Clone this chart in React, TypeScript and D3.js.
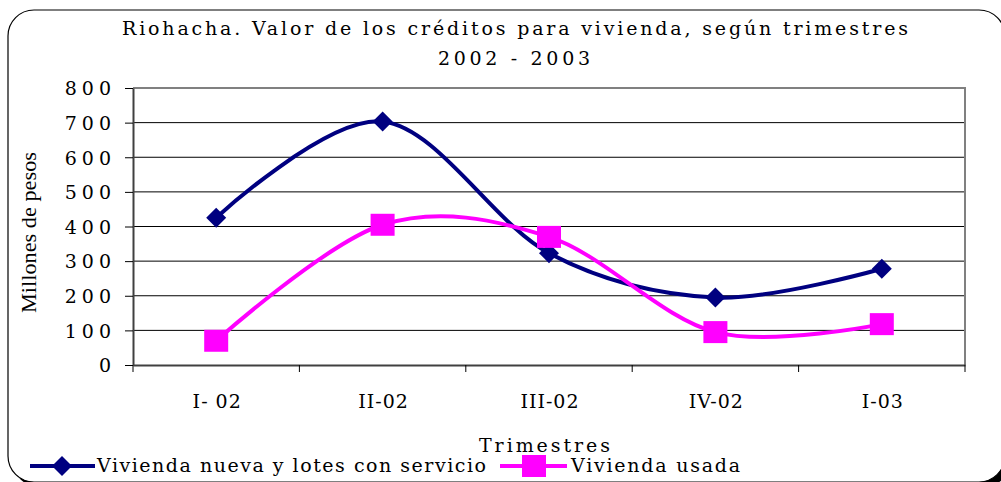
import React, { useRef, useEffect } from 'react';
import * as d3 from 'd3';

const categories = ['I- 02', 'II-02', 'III-02', 'IV-02', 'I-03'];
const viviendaNueva = [425, 703, 323, 195, 278];
const viviendaUsada = [70, 405, 370, 95, 118];
const yTicks = [0, 100, 200, 300, 400, 500, 600, 700, 800];

const seriesNames = ['Vivienda nueva y lotes con servicio', 'Vivienda usada'];
const colors = ['#000080', '#FF00FF'];
const font = '"DejaVu Serif", "Liberation Serif", serif';

export default function App() {
  const svgRef = useRef<SVGSVGElement>(null);

  useEffect(() => {
    const svg = d3.select(svgRef.current);
    svg.selectAll('*').remove();

    const plot = { left: 133, right: 965, top: 88, bottom: 365 };

    // frame with shadow
    svg.append('rect')
      .attr('x', 13).attr('y', 15).attr('width', 997).attr('height', 472)
      .attr('rx', 26).attr('fill', '#000');
    svg.append('rect')
      .attr('x', 8).attr('y', 10).attr('width', 997).attr('height', 472)
      .attr('rx', 26).attr('fill', '#fff').attr('stroke', '#000').attr('stroke-width', 1.2);

    // title
    svg.append('text')
      .attr('x', 122).attr('y', 35)
      .attr('textLength', 786).attr('lengthAdjust', 'spacing')
      .style('font-family', font).style('font-size', '19px')
      .text('Riohacha. Valor de los créditos para vivienda, según trimestres');
    svg.append('text')
      .attr('x', 438).attr('y', 65)
      .attr('textLength', 152).attr('lengthAdjust', 'spacing')
      .style('font-family', font).style('font-size', '19px')
      .text('2002 - 2003');

    const x = d3.scaleBand<string>().domain(categories).range([plot.left, plot.right]);
    const y = d3.scaleLinear().domain([0, 800]).range([plot.bottom, plot.top]);

    // gridlines
    svg.append('g').selectAll('line')
      .data(yTicks.filter(t => t > 0 && t < 800))
      .enter().append('line')
      .attr('x1', plot.left).attr('x2', plot.right)
      .attr('y1', d => y(d)).attr('y2', d => y(d))
      .attr('stroke', '#000').attr('stroke-width', 1);

    // plot border
    svg.append('path')
      .attr('d', `M${plot.left},${plot.top}H${plot.right}V${plot.bottom}`)
      .attr('fill', 'none').attr('stroke', '#808080').attr('stroke-width', 2);

    // axes
    const yAxis = svg.append('g')
      .attr('transform', `translate(${plot.left},0)`)
      .call(d3.axisLeft(y).tickValues(yTicks).tickSize(8).tickSizeOuter(0).tickFormat(d3.format('d')));
    yAxis.select('.domain').attr('stroke', '#404040').attr('stroke-width', 2);
    yAxis.selectAll('.tick line').attr('stroke', '#000');
    yAxis.selectAll('.tick text')
      .attr('x', -17).attr('dy', '0.36em')
      .attr('letter-spacing', '5px')
      .style('font-family', font).style('font-size', '19px').style('fill', '#000');

    const xAxis = svg.append('g')
      .attr('transform', `translate(0,${plot.bottom})`)
      .call(d3.axisBottom(x).tickSize(0).tickSizeOuter(0));
    xAxis.select('.domain').attr('stroke', '#404040').attr('stroke-width', 2);
    xAxis.selectAll('.tick text')
      .attr('dy', 0).attr('y', 43).attr('dx', 1)
      .attr('letter-spacing', '1px')
      .style('font-family', font).style('font-size', '19px').style('fill', '#000');
    // category boundary ticks
    const bounds = categories.map(c => x(c) as number).concat([plot.right]);
    svg.append('g').selectAll('line')
      .data(bounds).enter().append('line')
      .attr('x1', d => d).attr('x2', d => d)
      .attr('y1', plot.bottom).attr('y2', plot.bottom + 7)
      .attr('stroke', '#000');

    // axis titles
    svg.append('text')
      .attr('transform', `translate(36,${313}) rotate(-90)`)
      .attr('textLength', 161).attr('lengthAdjust', 'spacingAndGlyphs')
      .style('font-family', '"Liberation Serif", serif').style('font-size', '21px')
      .text('Millones de pesos');
    svg.append('text')
      .attr('x', 479).attr('y', 452)
      .attr('textLength', 131).attr('lengthAdjust', 'spacing')
      .style('font-family', font).style('font-size', '19px')
      .text('Trimestres');

    // lines
    const cx = (c: string) => (x(c) as number) + x.bandwidth() / 2;
    const line = d3.line<number>()
      .x((_, i) => cx(categories[i]))
      .y(d => y(d))
      .curve(d3.curveCatmullRom.alpha(0));

    [viviendaNueva, viviendaUsada].forEach((vals, k) => {
      svg.append('path')
        .attr('d', line(vals))
        .attr('fill', 'none')
        .attr('stroke', colors[k])
        .attr('stroke-width', 4);
    });

    const diamond = (g: any, px: number, py: number) =>
      g.append('path')
        .attr('d', `M${px},${py - 10}L${px + 10},${py}L${px},${py + 10}L${px - 10},${py}Z`)
        .attr('fill', colors[0]);
    const square = (g: any, px: number, py: number) =>
      g.append('rect')
        .attr('x', px - 12).attr('y', py - 11).attr('width', 24).attr('height', 22)
        .attr('fill', colors[1]);

    viviendaNueva.forEach((v, i) => diamond(svg, cx(categories[i]), y(v)));
    viviendaUsada.forEach((v, i) => square(svg, cx(categories[i]), y(v)));

    // legend
    const ly = 466;
    svg.append('line').attr('x1', 30).attr('x2', 95).attr('y1', ly).attr('y2', ly)
      .attr('stroke', colors[0]).attr('stroke-width', 4);
    diamond(svg, 62, ly);
    svg.append('text')
      .attr('x', 97).attr('y', ly + 6)
      .attr('textLength', 389).attr('lengthAdjust', 'spacing')
      .style('font-family', font).style('font-size', '19px')
      .text(seriesNames[0]);
    svg.append('line').attr('x1', 500).attr('x2', 567).attr('y1', ly).attr('y2', ly)
      .attr('stroke', colors[1]).attr('stroke-width', 4);
    square(svg, 534, ly);
    svg.append('text')
      .attr('x', 571).attr('y', ly + 6)
      .attr('textLength', 169).attr('lengthAdjust', 'spacing')
      .style('font-family', font).style('font-size', '19px')
      .text(seriesNames[1]);
  }, []);

  return (
    <svg ref={svgRef} width={1001} height={482}
      style={{ position: 'absolute', left: 0, top: 0, display: 'block', background: '#fff' }} />
  );
}
